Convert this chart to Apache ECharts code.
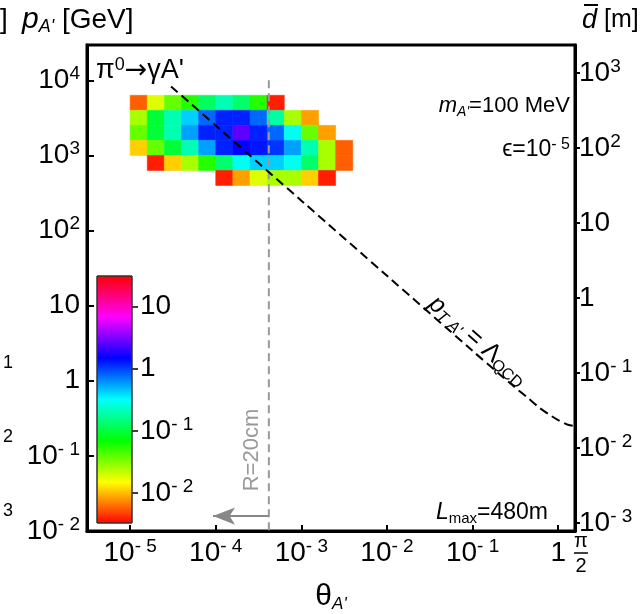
<!DOCTYPE html>
<html><head><meta charset="utf-8">
<script src="https://cdn.jsdelivr.net/npm/echarts@6/dist/echarts.min.js"></script>
<style>html,body{margin:0;padding:0;background:#fff}#c{width:640px;height:614px}</style>
</head><body><div id="c"></div>
<script>
// ---------------- data ----------------
// heat-map bins: lower edges in log10(theta) and log10(p/GeV), bin width 0.2 decade
const thetaBinLog10 = [-5.0,-4.8,-4.6,-4.4,-4.2,-4.0,-3.8,-3.6,-3.4,-3.2,-3.0,-2.8,-2.6];
const pBinLog10 = [3.6, 3.4, 3.2, 3.0, 2.8, 2.6];
const binWidthLog10 = 0.2;
// cell values (colour scale), rows follow pBinLog10, columns follow thetaBinLog10
const cellValues = [
  [0.0056,0.018,0.037,0.055,0.12,0.20,0.13,0.055,0.0038,null,null,null,null],
  [0.025,0.095,0.20,0.42,0.79,1.2,1.2,0.79,0.18,0.025,0.0083,null,null],
  [0.037,0.095,0.20,0.56,1.2,1.2,2.6,1.2,0.79,0.29,0.037,0.0083,null],
  [0.011,0.037,0.095,0.20,0.56,1.2,1.5,1.3,1.07,0.56,0.20,0.025,0.0056],
  [null,0.0038,0.011,0.025,0.055,0.13,0.29,0.42,0.42,0.29,0.13,0.025,0.0056],
  [null,null,null,null,null,0.0038,0.0083,0.018,0.025,0.025,0.011,0.0038,null]
];
// p_T,A' = Lambda_QCD curve
const curveTheta = [3e-5,1e-4,1e-3,1e-2,0.1,0.2,0.3,0.45,0.6,0.8,1.0,1.3,1.5708];
const curveP     = [8300,2500,250,25,2.5,1.26,0.85,0.58,0.44,0.35,0.30,0.26,0.25];
// R = 20 cm line
const thetaR = 4.17e-4;
const rLineP = [1e4, 1e-2];
const arrowTheta = [4.17e-4, 9.3e-5];
const arrowP = 0.0158;
// ticks (log10 exponents)
const xTickExp = [-5,-4,-3,-2,-1,0];
const leftTickExp = [-2,-1,0,1,2,3,4];
const rightTickExp = [-3,-2,-1,0,1,2,3];
const cbarTickExp = [-2,-1,0,1];
const xRange = [-5.504, Math.log10(Math.PI/2)];
const leftRange = [-2, 4.47];
const rightRange = [-3.107, 3.373];
const cbarRange = [-2.48, 1.49];
const colorRange = [-2.5, 1.5];

// ---------------- helpers ----------------
const FF = '"Liberation Sans", Arial, Helvetica, sans-serif';
function powLabel(v){
  const e = Math.round(v);
  if (e === 0) return '{b|1}';
  if (e === 1) return '{b|10}';
  return '{b|10}{s|' + (e < 0 ? '- ' + (-e) : e) + '}';
}
const richNum = {
  b: {fontSize: 28, fontFamily: FF, color: '#000', lineHeight: 32},
  s: {fontSize: 19, fontFamily: FF, color: '#000', lineHeight: 19, verticalAlign: 'top'}
};
const hueStops = ['#ff0000','#ffff00','#00ff00','#00ffff','#0000ff','#ff00ff','#ff0000'];

const heatData = [];
pBinLog10.forEach((py, r) => {
  thetaBinLog10.forEach((tx, c) => {
    const v = cellValues[r][c];
    if (v !== null) heatData.push([tx, py, Math.log10(v)]);
  });
});
const curveData = curveTheta.map((t, i) => [Math.log10(t), Math.log10(curveP[i])]);
const rLineData = rLineP.map(p => [Math.log10(thetaR), Math.log10(p)]);

const axisLineStyle = {show: true, onZero: false, lineStyle: {color: '#000', width: 3}};
const chart = echarts.init(document.getElementById('c'), null, {renderer: 'canvas'});
const option = {
  animation: false,
  backgroundColor: '#fff',
  grid: [
    {left: 87, top: 45, width: 488, height: 486, show: true, borderColor: '#000', borderWidth: 3, backgroundColor: 'transparent'},
    {left: 97, top: 276, width: 35, height: 247}
  ],
  xAxis: [
    {type: 'value', gridIndex: 0, min: xRange[0], max: xRange[1], axisLine: axisLineStyle,
     axisTick: {show: true, inside: true, length: 6, lineStyle: {color: '#000', width: 2},
                customValues: xTickExp.concat([xRange[1]])},
     axisLabel: {customValues: xTickExp, formatter: powLabel, rich: richNum, margin: 6},
     splitLine: {show: false}},
    {type: 'value', gridIndex: 1, min: 0, max: 1, show: false}
  ],
  yAxis: [
    {type: 'value', gridIndex: 0, position: 'left', min: leftRange[0], max: leftRange[1], axisLine: axisLineStyle,
     axisTick: {show: true, inside: true, length: 7, lineStyle: {color: '#000', width: 2}, customValues: leftTickExp},
     axisLabel: {customValues: leftTickExp, formatter: powLabel, rich: richNum, margin: 7},
     splitLine: {show: false}},
    {type: 'value', gridIndex: 0, position: 'right', min: rightRange[0], max: rightRange[1], axisLine: axisLineStyle,
     axisTick: {show: true, inside: false, length: 5, lineStyle: {color: '#000', width: 2}, customValues: rightTickExp},
     axisLabel: {customValues: rightTickExp, formatter: powLabel, rich: richNum, margin: 4},
     splitLine: {show: false}},
    {type: 'value', gridIndex: 1, position: 'right', min: cbarRange[0], max: cbarRange[1],
     axisLine: {show: false, onZero: false},
     axisTick: {show: true, inside: false, length: 6, lineStyle: {color: '#000', width: 1.5}, customValues: cbarTickExp},
     axisLabel: {customValues: cbarTickExp, formatter: powLabel, rich: richNum, margin: 8},
     splitLine: {show: false}}
  ],
  visualMap: {type: 'continuous', show: false, seriesIndex: 0, dimension: 2,
              min: colorRange[0], max: colorRange[1], inRange: {color: hueStops}},
  series: [
    {type: 'custom', xAxisIndex: 0, yAxisIndex: 0, data: heatData, encode: {x: 0, y: 1},
     renderItem: function(params, api){
       const x0 = api.value(0), y0 = api.value(1);
       const a = api.coord([x0, y0 + binWidthLog10]);
       const b = api.coord([x0 + binWidthLog10, y0]);
       const col = api.visual('color');
       return {type: 'rect', shape: {x: a[0], y: a[1], width: b[0]-a[0], height: b[1]-a[1]},
               style: {fill: col, stroke: col, lineWidth: 0.6}};
     }},
    {type: 'custom', xAxisIndex: 1, yAxisIndex: 2, data: [[0, cbarRange[0], 1, cbarRange[1]]],
     renderItem: function(params, api){
       const a = api.coord([api.value(0), api.value(3)]);
       const b = api.coord([api.value(2), api.value(1)]);
       return {type: 'rect', shape: {x: a[0], y: a[1], width: b[0]-a[0], height: b[1]-a[1]},
               style: {fill: new echarts.graphic.LinearGradient(0, 1, 0, 0,
                 hueStops.map((c, i) => ({offset: i/(hueStops.length-1), color: c}))),
                 stroke: '#333', lineWidth: 1}};
     }},
    {type: 'line', xAxisIndex: 0, yAxisIndex: 0, data: rLineData, symbol: 'none',
     lineStyle: {color: '#999', width: 2, type: [8, 5]}, z: 3,
     markLine: {silent: true, symbol: ['none', 'arrow'], symbolSize: [13, 22], label: {show: false},
       lineStyle: {color: '#888', width: 2, type: 'solid'},
       data: [[{coord: [Math.log10(arrowTheta[0]), Math.log10(arrowP)]},
               {coord: [Math.log10(arrowTheta[1]), Math.log10(arrowP)]}]]}},
    {type: 'line', xAxisIndex: 0, yAxisIndex: 0, data: curveData, symbol: 'none', smooth: 0.3,
     lineStyle: {color: '#000', width: 2, type: [9, 5]}, z: 4}
  ],
  graphic: [
    {type: 'text', x: 0, y: 20, style: {text: ']', font: '28px ' + FF, fill: '#000', verticalAlign: 'middle'}},
    {type: 'text', x: 3, y: 363, style: {text: '1', font: '18px ' + FF, fill: '#000', verticalAlign: 'middle'}},
    {type: 'text', x: 3, y: 437, style: {text: '2', font: '18px ' + FF, fill: '#000', verticalAlign: 'middle'}},
    {type: 'text', x: 3, y: 511, style: {text: '3', font: '18px ' + FF, fill: '#000', verticalAlign: 'middle'}},
    {type: 'text', x: 22, y: 20, style: {
      text: '{i|p}{sub|A\'}{n| [GeV]}', verticalAlign: 'middle', align: 'left',
      rich: {i: {font: 'italic 30px ' + FF, fill: '#000', lineHeight: 32},
             sub: {font: 'italic 18px ' + FF, fill: '#000', lineHeight: 18, verticalAlign: 'bottom'},
             n: {font: '28px ' + FF, fill: '#000', lineHeight: 32}}}},
    {type: 'text', x: 582, y: 20, style: {
      text: '{i|d}{n| [m]}', verticalAlign: 'middle', align: 'left',
      rich: {i: {font: 'italic 27px ' + FF, fill: '#000', lineHeight: 30},
             n: {font: '25px ' + FF, fill: '#000', lineHeight: 30}}}},
    {type: 'line', shape: {x1: 584, y1: 5, x2: 598, y2: 5}, style: {stroke: '#000', lineWidth: 2}},
    {type: 'text', x: 96, y: 71, style: {
      text: '{n|π}{s|0}{a|→}{n|γA\'}', verticalAlign: 'middle', align: 'left',
      rich: {n: {font: '27px ' + FF, fill: '#000', lineHeight: 30},
             a: {font: '27px "DejaVu Sans", sans-serif', fill: '#000', lineHeight: 30},
             s: {font: '18px ' + FF, fill: '#000', lineHeight: 18, verticalAlign: 'top'}}}},
    {type: 'text', x: 570, y: 106, style: {
      text: '{i|m}{sub|A\'}{n|=100 MeV}', verticalAlign: 'middle', align: 'right',
      rich: {i: {font: 'italic 22px ' + FF, fill: '#000', lineHeight: 26},
             sub: {font: 'italic 14px ' + FF, fill: '#000', lineHeight: 14, verticalAlign: 'bottom'},
             n: {font: '22px ' + FF, fill: '#000', lineHeight: 26}}}},
    {type: 'text', x: 570, y: 150, style: {
      text: '{n|ϵ=10}{s|- 5}', verticalAlign: 'middle', align: 'right',
      rich: {n: {font: '23px ' + FF, fill: '#000', lineHeight: 27},
             s: {font: '16px ' + FF, fill: '#000', lineHeight: 16, verticalAlign: 'top'}}}},
    {type: 'text', x: 548, y: 513, style: {
      text: '{i|L}{sub|max}{n|=480m}', verticalAlign: 'middle', align: 'right',
      rich: {i: {font: 'italic 23px ' + FF, fill: '#000', lineHeight: 26},
             sub: {font: '15px ' + FF, fill: '#000', lineHeight: 15, verticalAlign: 'bottom'},
             n: {font: '23px ' + FF, fill: '#000', lineHeight: 26}}}},
    {type: 'text', x: 252, y: 450, rotation: Math.PI/2, style: {
      text: 'R=20cm', font: '22px ' + FF, fill: '#999', align: 'center', verticalAlign: 'middle'}},
    {type: 'text', x: 478, y: 341, rotation: -0.72, style: {
      text: '{i|p}{sub|T A\'}{n| = Λ}{sub2|QCD}', verticalAlign: 'middle', align: 'center',
      rich: {i: {font: 'italic 25px ' + FF, fill: '#000', lineHeight: 28},
             sub: {font: 'italic 16px ' + FF, fill: '#000', lineHeight: 16, verticalAlign: 'bottom'},
             n: {font: '25px ' + FF, fill: '#000', lineHeight: 28},
             sub2: {font: '16px ' + FF, fill: '#000', lineHeight: 16, verticalAlign: 'bottom'}}}},
    {type: 'text', x: 331, y: 597, style: {
      text: '{n|θ}{sub|A\'}', verticalAlign: 'middle', align: 'center',
      rich: {n: {font: '30px ' + FF, fill: '#000', lineHeight: 32},
             sub: {font: 'italic 17px ' + FF, fill: '#000', lineHeight: 17, verticalAlign: 'bottom'}}}}
  ]
};
chart.setOption(option);
// pi/2 label at the end of the theta axis, placed through the axis scale
const piX = chart.convertToPixel({xAxisIndex: 0}, xRange[1]);
chart.setOption({graphic: option.graphic.concat([
  {type: 'text', x: piX + 6, y: 541, style: {text: 'π', font: '20px ' + FF, fill: '#000', align: 'center', verticalAlign: 'middle'}},
  {type: 'line', shape: {x1: piX - 1, y1: 553, x2: piX + 13, y2: 553}, style: {stroke: '#000', lineWidth: 1.5}},
  {type: 'text', x: piX + 6, y: 566, style: {text: '2', font: '20px ' + FF, fill: '#000', align: 'center', verticalAlign: 'middle'}}
])});
</script>
</body></html>
